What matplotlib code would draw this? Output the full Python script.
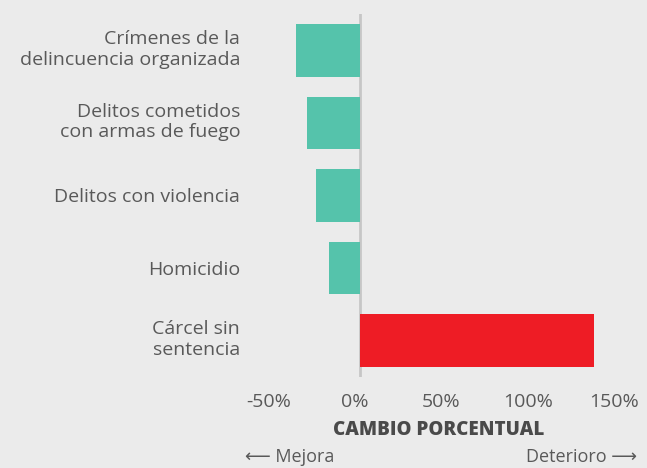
import matplotlib
matplotlib.use("Agg")
import matplotlib.pyplot as plt
from matplotlib.transforms import ScaledTranslation

categories = ["Crímenes de la\ndelincuencia organizada",
              "Delitos cometidos\ncon armas de fuego",
              "Delitos con violencia",
              "Homicidio",
              "Cárcel sin\nsentencia"]
values = [-37, -30.5, -25.5, -18, 135]
xticks = [-50, 0, 50, 100, 150]
xtick_labels = ["-50%", "0%", "50%", "100%", "150%"]

bg = "#ebebeb"
teal = "#55c3ab"
red = "#ee1c25"
grey_text = "#595959"

plt.rcParams["font.family"] = ["Open Sans", "DejaVu Sans"]

fig = plt.figure(figsize=(6.47, 4.68), dpi=100, facecolor=bg)
W, H = 647, 468
# axes spans -50%..150% horizontally, rows -0.5..4.5 vertically
ax = fig.add_axes([273.5 / W, 1 - 376.75 / H, 346 / W, (376.75 - 14.25) / H])
ax.set_facecolor(bg)

colors = [teal if v < 0 else red for v in values]
ax.barh(range(len(values)), values, height=0.73, color=colors, zorder=2)
ax.axvline(0, color="#c6c6c6", lw=2, zorder=1)

ax.set_xlim(-50, 150)
ax.set_ylim(4.5, -0.5)
ax.set_yticks(range(len(categories)))
ax.set_yticklabels(categories, fontsize=14, color=grey_text, linespacing=1.15)
ax.set_xticks(xticks)
ax.set_xticklabels(xtick_labels, fontsize=14, color=grey_text)
ax.tick_params(axis="y", length=0, pad=24)
ax.tick_params(axis="x", length=0, pad=12)
shift = ScaledTranslation(-0.05, 0, fig.dpi_scale_trans)
for lbl in ax.get_xticklabels():
    lbl.set_transform(lbl.get_transform() + shift)
# two-line labels sit a little higher in the original
up = ScaledTranslation(0, 0.04, fig.dpi_scale_trans)
for lbl in ax.get_yticklabels():
    if "\n" in lbl.get_text():
        lbl.set_transform(lbl.get_transform() + up)
for s in ax.spines.values():
    s.set_visible(False)

fig.text(439 / W, 1 - 430 / H, "CAMBIO PORCENTUAL", fontsize=13.5, fontweight="heavy",
         color="#4a4a4a", ha="center", va="center")
fig.text(245 / W, 1 - 457 / H, "\u27f5 Mejora", fontsize=13, color=grey_text,
         ha="left", va="center", family=["Open Sans", "DejaVu Sans"])
fig.text(637 / W, 1 - 457 / H, "Deterioro \u27f6", fontsize=13, color=grey_text,
         ha="right", va="center", family=["Open Sans", "DejaVu Sans"])

fig.savefig("out.png", dpi=100, facecolor=bg)
